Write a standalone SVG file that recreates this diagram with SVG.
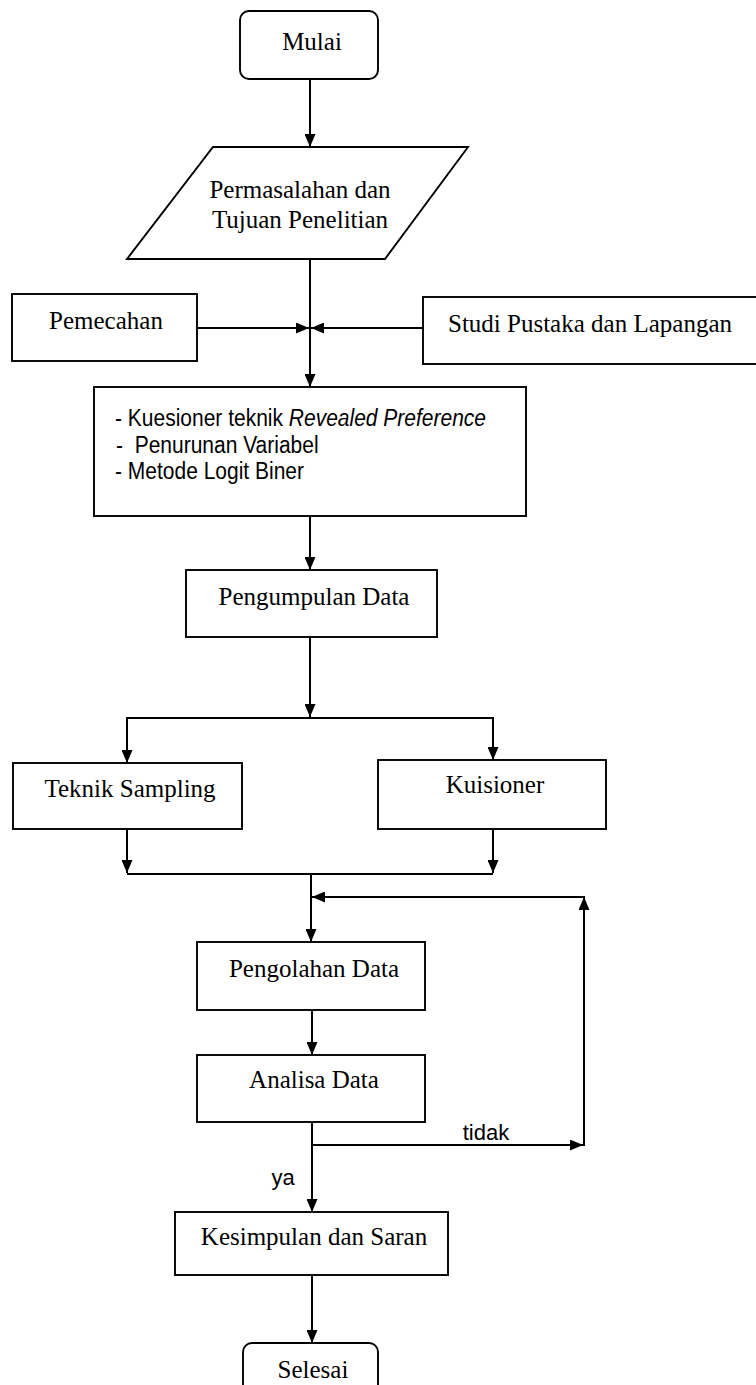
<svg xmlns="http://www.w3.org/2000/svg" width="756" height="1385" viewBox="0 0 756 1385">
<style>
.box{fill:#fff;stroke:#000;stroke-width:1.9}
.con{fill:none;stroke:#000;stroke-width:2}
.t{font-family:"Liberation Serif","Times New Roman",serif;font-size:25px;fill:#000;text-anchor:middle}
.s{font-family:"Liberation Sans",Arial,sans-serif;font-size:21px;fill:#000;white-space:pre}
.l{font-family:"Liberation Sans",Arial,sans-serif;font-size:22px;fill:#000;text-anchor:middle}
</style>
<defs>
<marker id="ah" viewBox="0 0 13 11" refX="13" refY="5.5" markerWidth="13" markerHeight="11" markerUnits="userSpaceOnUse" orient="auto">
<path d="M0,0 L13,5.5 L0,11 z" fill="#000"/>
</marker>
</defs>
<rect width="756" height="1385" fill="#fff"/>
<g id="connectors">
<path class="con" d="M310,79 V147" marker-end="url(#ah)"/>
<path class="con" d="M197,328 H309" marker-end="url(#ah)"/>
<path class="con" d="M423,328 H311" marker-end="url(#ah)"/>
<path class="con" d="M310,259 V387" marker-end="url(#ah)"/>
<path class="con" d="M310,516 V570" marker-end="url(#ah)"/>
<path class="con" d="M310,637 V717" marker-end="url(#ah)"/>
<path class="con" d="M127,718 H493"/>
<path class="con" d="M127,717 V763" marker-end="url(#ah)"/>
<path class="con" d="M493,717 V760" marker-end="url(#ah)"/>
<path class="con" d="M127,829 V873" marker-end="url(#ah)"/>
<path class="con" d="M493,829 V873" marker-end="url(#ah)"/>
<path class="con" d="M127,874 H493"/>
<path class="con" d="M311,873 V942" marker-end="url(#ah)"/>
<path class="con" d="M584,1146 V897" marker-end="url(#ah)"/>
<path class="con" d="M585,897 H312" marker-end="url(#ah)"/>
<path class="con" d="M312,1010 V1055" marker-end="url(#ah)"/>
<path class="con" d="M312,1122 V1212" marker-end="url(#ah)"/>
<path class="con" d="M312,1145 H583" marker-end="url(#ah)"/>
<path class="con" d="M312,1275 V1343" marker-end="url(#ah)"/>
<text class="l" x="486" y="1140">tidak</text>
<text class="l" x="283" y="1185">ya</text>
</g>
<g id="mulai">
<rect class="box" x="240" y="11" width="138" height="68" rx="9"/>
<text class="t" x="312" y="50">Mulai</text>
</g>
<g id="permasalahan">
<polygon class="box" points="213,147 468,147 385,259 127,259"/>
<text class="t" x="300" y="198">Permasalahan dan</text>
<text class="t" x="300" y="228">Tujuan Penelitian</text>
</g>
<g id="pemecahan">
<rect class="box" x="12" y="294" width="185" height="67"/>
<text class="t" x="106" y="329">Pemecahan</text>
</g>
<g id="studi">
<rect class="box" x="423" y="297" width="345" height="67"/>
<text class="t" x="590" y="332">Studi Pustaka dan Lapangan</text>
</g>
<g id="metode">
<rect class="box" x="94" y="387" width="432" height="129"/>
<text class="s" transform="translate(115,426) scale(1,1.12)">- Kuesioner teknik <tspan font-style="italic">Revealed Preference</tspan></text>
<text class="s" transform="translate(116,453) scale(1,1.12)">-  Penurunan Variabel</text>
<text class="s" transform="translate(115,479) scale(1,1.12)">- Metode Logit Biner</text>
</g>
<g id="pengumpulan">
<rect class="box" x="186" y="570" width="251" height="67"/>
<text class="t" x="314" y="605">Pengumpulan Data</text>
</g>
<g id="teknik">
<rect class="box" x="13" y="763" width="229" height="66"/>
<text class="t" x="130" y="797">Teknik Sampling</text>
</g>
<g id="kuisioner">
<rect class="box" x="378" y="760" width="228" height="69"/>
<text class="t" x="495" y="793">Kuisioner</text>
</g>
<g id="pengolahan">
<rect class="box" x="197" y="942" width="228" height="68"/>
<text class="t" x="314" y="977">Pengolahan Data</text>
</g>
<g id="analisa">
<rect class="box" x="197" y="1055" width="228" height="67"/>
<text class="t" x="314" y="1088">Analisa Data</text>
</g>
<g id="kesimpulan">
<rect class="box" x="175" y="1212" width="273" height="63"/>
<text class="t" x="314" y="1245">Kesimpulan dan Saran</text>
</g>
<g id="selesai">
<rect class="box" x="243" y="1343" width="135" height="60" rx="9"/>
<text class="t" x="313" y="1378">Selesai</text>
</g>
</svg>
